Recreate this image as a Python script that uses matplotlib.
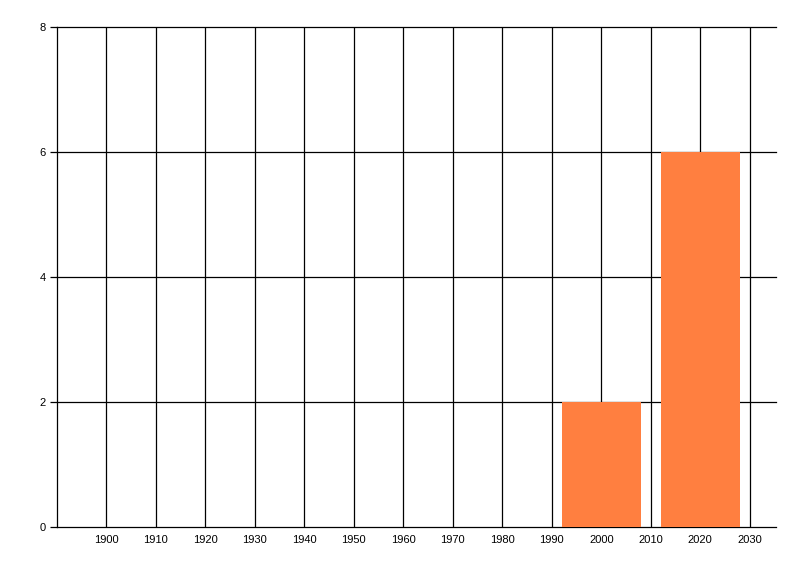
import matplotlib
matplotlib.use("Agg")
import matplotlib.pyplot as plt

years = [2000, 2020]
counts = [2, 6]
x_ticks = [1900, 1910, 1920, 1930, 1940, 1950, 1960, 1970, 1980, 1990, 2000, 2010, 2020, 2030]
y_ticks = [0, 2, 4, 6, 8]

fig = plt.figure(figsize=(8, 5.76), dpi=100)
ax = fig.add_axes([57/800, 49/576, 719/800, 500/576])

ax.bar(years, counts, width=16, color="#FF7F40", zorder=3, linewidth=0)

ax.set_xlim(1890, 2035.3)
ax.set_ylim(0, 8)
ax.set_xticks(x_ticks)
ax.set_yticks(y_ticks)

lw = 0.9
for x in x_ticks:
    ax.axvline(x, color="black", lw=lw, zorder=1)
for y in y_ticks:
    ax.axhline(y, color="black", lw=lw, zorder=1, clip_on=False)

for s in ["top", "right", "bottom"]:
    ax.spines[s].set_visible(False)
ax.spines["left"].set_linewidth(lw)
ax.spines["left"].set_zorder(4)

ax.tick_params(axis="x", length=0, pad=6, labelsize=8)
ax.tick_params(axis="y", length=5, width=lw, pad=3, labelsize=8)
for lab in ax.get_xticklabels() + ax.get_yticklabels():
    lab.set_fontfamily("Liberation Sans")

fig.savefig("out.png", dpi=100)
